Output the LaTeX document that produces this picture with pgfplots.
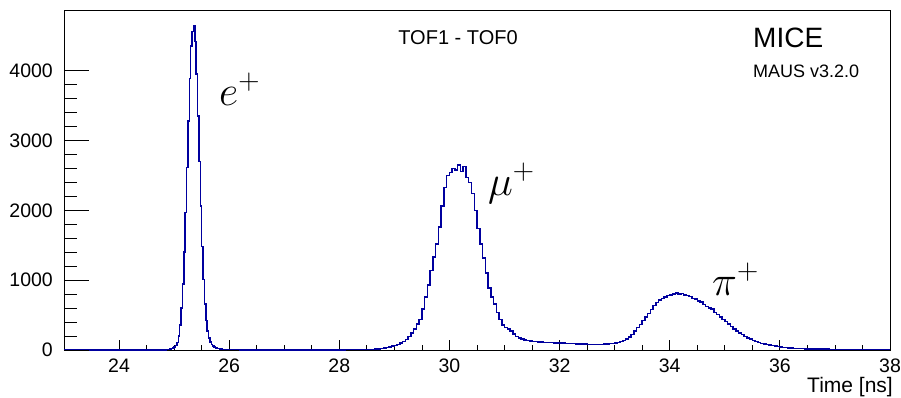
\documentclass[border=0pt]{standalone}
\usepackage{fix-cm}
\usepackage{fontspec}
\setmainfont{Liberation Sans}
\usepackage{pgfplots}
\pgfplotsset{compat=1.18}
\definecolor{histblue}{rgb}{0,0,0.62}
\begin{document}
\begin{tikzpicture}[x=1bp,y=1bp]
\useasboundingbox (-64,-47) rectangle (837,350);
\begin{axis}[
  at={(0,0)}, anchor=south west,
  scale only axis, width=826bp, height=340bp,
  xmin=23, xmax=38, ymin=0, ymax=4870,
  xtick={24,26,28,30,32,34,36,38},
  xticklabels={24,26,28,30,32,34,36,38},
  minor x tick num=3,
  ytick=\empty,
  xtick pos=left, tick align=inside,
  major tick length=10bp, minor tick length=5bp,
  every tick/.style={black, line width=0.8bp},
  axis line style={black, line width=0.9bp},
  xticklabel style={font=\fontsize{19.5bp}{22bp}\selectfont, anchor=north, inner sep=0pt, yshift=-9bp},
]
\addplot[const plot, histblue, line width=1.5bp] coordinates {
(23.0,0) (24.0,0) (24.5,1) (24.7,2) (24.8,3) (24.85,5) (24.875,7) (24.9,10) (24.925,14) (24.95,20) (24.975,28)
(25.0,40) (25.025,65) (25.05,109) (25.075,204) (25.1,359) (25.125,599) (25.15,942) (25.175,1401) (25.2,1969)
(25.225,2614) (25.25,3279) (25.275,3888) (25.3,4353) (25.325,4560) (25.35,4640) (25.375,4420) (25.4,3950)
(25.425,3350) (25.45,2700) (25.475,2060) (25.5,1480) (25.525,1010) (25.55,660) (25.575,420) (25.6,270)
(25.625,175) (25.65,115) (25.675,80) (25.7,58) (25.725,42) (25.75,32) (25.775,25) (25.8,20) (25.825,15)
(25.85,12) (25.875,9) (25.9,7) (26.0,5) (26.1,4) (26.2,3) (26.3,3) (26.4,2) (26.5,2) (26.6,2) (26.7,2)
(26.8,2) (26.9,2) (27.0,2) (27.1,2) (27.2,2) (27.3,2) (27.4,2) (27.5,2) (27.6,3) (27.7,3) (27.8,3) (27.9,3)
(28.0,3) (28.1,4) (28.2,4) (28.3,5) (28.4,5)
(28.5,6) (28.55,7) (28.6,9) (28.65,12) (28.7,15) (28.75,20) (28.8,27) (28.85,35) (28.9,44) (28.95,56)
(29.0,68) (29.05,80) (29.1,98) (29.15,120) (29.2,150) (29.25,190) (29.3,245) (29.35,300) (29.4,370)
(29.45,440) (29.5,590) (29.55,760) (29.6,930) (29.65,1140) (29.7,1330) (29.75,1520) (29.8,1760) (29.85,2060)
(29.9,2330) (29.95,2500) (30.0,2540) (30.05,2600) (30.1,2580) (30.15,2650) (30.2,2560) (30.25,2630)
(30.3,2470) (30.35,2400) (30.4,2240) (30.45,2000) (30.5,1740) (30.55,1520) (30.6,1320) (30.65,1100)
(30.7,890) (30.75,760) (30.8,660) (30.85,540) (30.9,440) (30.95,360) (31.0,320) (31.05,300) (31.1,270)
(31.15,230) (31.2,195) (31.25,170) (31.3,155) (31.35,145) (31.4,138) (31.45,130)
(31.5,125) (31.6,118) (31.7,110) (31.8,106) (31.9,100) (32.0,97) (32.1,94) (32.2,90) (32.3,86) (32.4,84)
(32.5,80) (32.6,78) (32.7,80) (32.8,83) (32.9,90)
(33.0,100) (33.05,108) (33.1,120) (33.15,135) (33.2,155) (33.25,185) (33.3,225) (33.35,275) (33.4,320)
(33.45,365) (33.5,420) (33.55,475) (33.6,525) (33.65,580) (33.7,635) (33.75,680) (33.8,715) (33.85,740)
(33.9,760) (33.95,780) (34.0,790) (34.05,800) (34.1,818) (34.15,805) (34.2,812) (34.25,790) (34.3,780)
(34.35,768) (34.4,740) (34.45,730) (34.5,700) (34.55,690) (34.6,655) (34.65,625) (34.7,600) (34.75,590)
(34.8,540) (34.85,510) (34.9,470) (34.95,440) (35.0,405) (35.05,370) (35.1,340) (35.15,300) (35.2,275)
(35.25,245) (35.3,220) (35.35,195) (35.4,170) (35.45,155) (35.5,135) (35.55,120) (35.6,110) (35.65,95)
(35.7,88) (35.75,78) (35.8,70) (35.85,62) (35.9,55) (35.95,48) (36.0,42) (36.05,38) (36.1,34) (36.15,30)
(36.2,27) (36.25,25) (36.3,22) (36.35,20) (36.4,18) (36.45,17) (36.5,15) (36.6,14) (36.7,12) (36.8,11)
(36.9,10) (37.0,9) (37.1,8) (37.2,8) (37.3,7) (37.4,6) (37.5,6) (37.6,5) (37.7,5) (37.8,4) (37.9,4) (38.0,4)
};
\end{axis}
\begin{axis}[
  at={(0,0)}, anchor=south west,
  scale only axis, width=826bp, height=340bp,
  xmin=23, xmax=38, ymin=0, ymax=4870,
  hide x axis, axis line style={draw=none},
  ytick={0,1000,2000,3000,4000},
  yticklabels={0,1000,2000,3000,4000},
  minor y tick num=4,
  ytick pos=left, tick align=inside,
  major tick length=25bp, minor tick length=12.5bp,
  every tick/.style={black, line width=0.8bp},
  yticklabel style={font=\fontsize{19.5bp}{22bp}\selectfont, anchor=east, inner sep=0pt, xshift=-11bp},
]
\end{axis}
\node[anchor=base, inner sep=0pt, font=\fontsize{20bp}{24bp}\selectfont] at (394,306) {TOF1 - TOF0};
\node[anchor=base west, inner sep=0pt, font=\fontsize{28bp}{32bp}\selectfont] at (689,303) {MICE};
\node[anchor=base west, inner sep=0pt, font=\fontsize{18bp}{22bp}\selectfont] at (689,273) {MAUS v3.2.0};
\node[anchor=base east, inner sep=0pt, font=\fontsize{21bp}{24bp}\selectfont] at (829,-42) {Time [ns]};
\node[anchor=base west, inner sep=0pt, font=\fontsize{42bp}{48bp}\selectfont] at (155,245) {$e^{+}$};
\node[anchor=base west, inner sep=0pt, font=\fontsize{42bp}{48bp}\selectfont] at (424,155) {$\mu^{+}$};
\node[anchor=base west, inner sep=0pt, font=\fontsize{42bp}{48bp}\selectfont] at (648,55) {$\pi^{+}$};
\end{tikzpicture}
\end{document}
